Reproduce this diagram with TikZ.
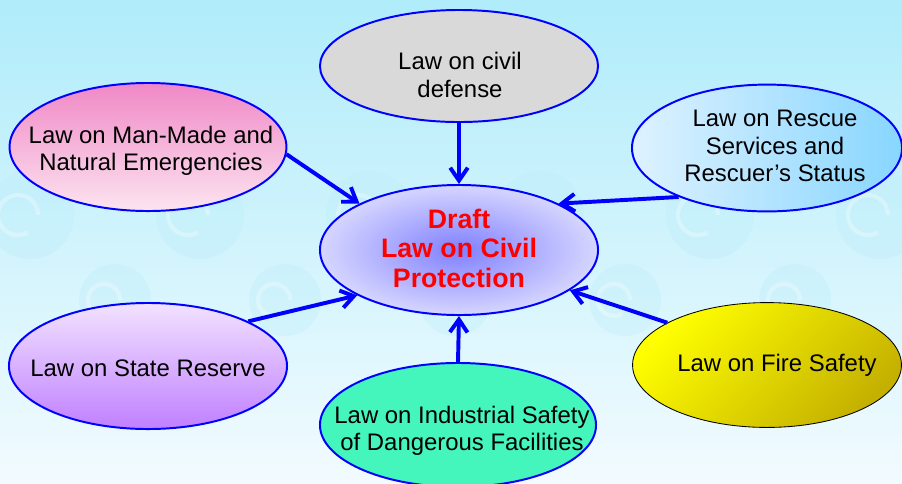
\documentclass[tikz,border=0pt]{standalone}
\usepackage{fontspec}
\setmainfont{Liberation Sans}
\usetikzlibrary{shapes.geometric,arrows.meta}

\definecolor{skytop}{RGB}{176,236,250}
\definecolor{skybot}{RGB}{242,251,255}
\definecolor{swirl}{RGB}{190,238,250}
\definecolor{civgray}{RGB}{217,217,217}
\definecolor{pinktop}{RGB}{240,136,198}
\definecolor{pinkbot}{RGB}{252,228,240}
\definecolor{rescleft}{RGB}{222,242,255}
\definecolor{rescright}{RGB}{136,214,255}
\definecolor{draftin}{RGB}{128,128,255}
\definecolor{draftout}{RGB}{214,214,255}
\definecolor{lilactop}{RGB}{242,226,255}
\definecolor{lilacbot}{RGB}{192,128,255}
\definecolor{fireyel}{RGB}{255,255,0}
\definecolor{fireolive}{RGB}{196,176,0}
\definecolor{mint}{RGB}{68,245,188}

\tikzset{
  law/.style={ellipse, draw=blue, line width=1.4pt, inner sep=0pt},
  lawtext/.style={align=center, font=\fontsize{17}{19.5}\selectfont},
  feed/.style={-{Straight Barb[length=3.2mm,width=4.4mm]}, line width=2.8pt, blue},
}

\begin{document}
\begin{tikzpicture}[x=0.025cm,y=-0.025cm]
\useasboundingbox (0,0) rectangle (902,483);
\clip (0,0) rectangle (902,483);
\shade [top color=skytop, bottom color=skybot] (0,0) rectangle (902,483);
% faint ornament in the background
\foreach \x in {30,200,370,540,710,880} {
  \fill [swirl, opacity=.4] (\x,215) circle (1.1cm);
  \fill [swirl, opacity=.35] (\x+85,300) circle (0.9cm);
  \draw [white, opacity=.3, line width=3pt] (\x+8,215) arc (0:300:0.5cm);
  \draw [white, opacity=.3, line width=3pt] (\x+90,300) arc (0:300:0.4cm);
}

\node [law, fill=civgray, minimum width=6.95cm, minimum height=2.8cm] (civil) at (459,66) {};
\node [law, top color=pinktop, bottom color=pinkbot, minimum width=6.92cm, minimum height=3.2cm] (manmade) at (148,147) {};
\node [law, left color=rescleft, right color=rescright, minimum width=6.75cm, minimum height=3.17cm] (rescue) at (767,148) {};
\node [law, inner color=draftin, outer color=draftout, minimum width=6.95cm, minimum height=3.25cm] (draft) at (459,250) {};
\node [law, top color=lilactop, bottom color=lilacbot, minimum width=6.95cm, minimum height=3.15cm] (reserve) at (148,366) {};
\node [law, draw=black, line width=.6pt, top color=fireyel, bottom color=fireolive, shading angle=45, minimum width=6.72cm, minimum height=3.12cm] (fire) at (767,365) {};
\node [law, fill=mint, minimum width=6.9cm, minimum height=3.1cm] (industry) at (458,425) {};

\node [lawtext] (civiltxt) at (460,75) {Law on civil\\defense};
\node [lawtext] (manmadetxt) at (151,151) {Law on Man-Made and\\Natural Emergencies};
\node [lawtext] (rescuetxt) at (775,146) {Law on Rescue\\Services and\\Rescuer’s Status};
\node [lawtext, text=red, font=\fontsize{19}{21}\selectfont\bfseries] (drafttxt) at (459,248) {Draft\\Law on Civil\\Protection};
\node [lawtext] (reservetxt) at (148,368) {Law on State Reserve};
\node [lawtext] (firetxt) at (777,365) {Law on Fire Safety};
\node [lawtext] (industrytxt) at (462,431) {Law on Industrial Safety\\of Dangerous Facilities};

\draw [feed] (civil.south) -- (draft.north);
\draw [feed] (manmade.-3) -- (draft.155);
\draw [feed] (rescue.209) -- (draft.25);
\draw [feed] (reserve.24) -- (draft.204);
\draw [feed] (fire.157) -- (draft.-20);
\draw [feed] (industry.north) -- (draft.south);
\end{tikzpicture}
\end{document}
